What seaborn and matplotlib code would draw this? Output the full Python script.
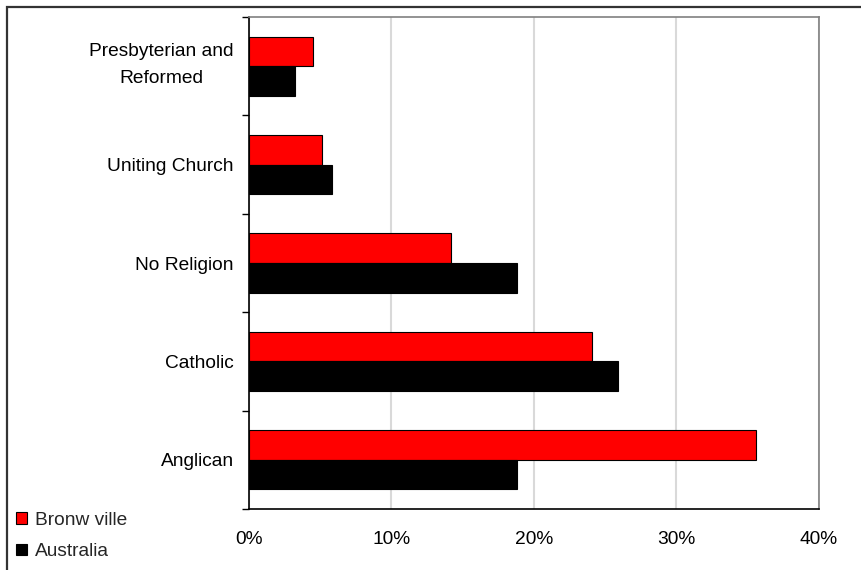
import numpy as np
import pandas as pd
import matplotlib
matplotlib.use("Agg")
import matplotlib.pyplot as plt
from matplotlib.patches import Patch, Rectangle
from matplotlib.ticker import FuncFormatter, FixedLocator
from matplotlib.transforms import ScaledTranslation
import seaborn as sns

categories = ["Presbyterian and\nReformed", "Uniting Church", "No Religion", "Catholic", "Anglican"]
series_names = ["Bronw ville", "Australia"]
bronwville = [4.5, 5.1, 14.2, 24.1, 35.6]
australia = [3.2, 5.8, 18.8, 25.9, 18.8]
x_ticks = [0, 10, 20, 30, 40]
colors = ["#ff0000", "#000000"]

df = pd.DataFrame({
    "religion": categories * 2,
    "pct": bronwville + australia,
    "area": [series_names[0]] * len(categories) + [series_names[1]] * len(categories),
})

sns.set_style("white")
plt.rcParams["font.family"] = ["Liberation Sans", "DejaVu Sans"]

fig = plt.figure(figsize=(8.61, 5.70), dpi=100)
ax = fig.add_axes([249 / 861, 1 - 509 / 570, (818.5 - 249) / 861, (509 - 17) / 570])

sns.barplot(data=df, y="religion", x="pct", hue="area", order=categories,
            hue_order=series_names, palette=colors, orient="h", width=0.6,
            edgecolor="black", linewidth=0.8, saturation=1, legend=False, ax=ax)

ax.set_xlim(0, 40)
ax.set_ylim(len(categories) - 0.5, -0.5)
ax.set_xlabel("")
ax.set_ylabel("")

# x axis
ax.xaxis.set_major_locator(FixedLocator(x_ticks))
ax.xaxis.set_major_formatter(FuncFormatter(lambda v, p: f"{v:.0f}%"))
ax.tick_params(axis="x", direction="in", length=5, width=1, color="#404040",
               pad=16, labelsize=13.8, labelcolor="black")
ax.grid(axis="x", color="#d9d9d9", linewidth=1.5)
ax.set_axisbelow(True)

# y axis: ticks at category boundaries, labels centered
ax.set_yticks(np.arange(-0.5, len(categories), 1.0))
ax.set_yticklabels([])
ax.set_yticks(np.arange(len(categories)), minor=True)
ax.set_yticklabels(categories, minor=True, multialignment="center", linespacing=1.75)
ax.tick_params(axis="y", which="major", direction="out", length=5, width=1,
               color="black", left=True)
ax.tick_params(axis="y", which="minor", length=0, pad=11, labelsize=13.8,
               labelcolor="black")
# the two-line label sits a little above the category centre
lab = ax.yaxis.get_minor_ticks()[0].label1
lab.set_transform(lab.get_transform() + ScaledTranslation(0, 8 / 100, fig.dpi_scale_trans))

for side in ["left", "bottom"]:
    ax.spines[side].set_color("black")
    ax.spines[side].set_linewidth(1.2)
for side in ["top", "right"]:
    ax.spines[side].set_visible(True)
    ax.spines[side].set_color("#808080")
    ax.spines[side].set_linewidth(1.2)

handles = [Patch(facecolor=c, edgecolor="black", linewidth=0.8) for c in colors]
fig.legend(handles, series_names, loc="center left",
           bbox_to_anchor=(16 / 861, 1 - 536 / 570), frameon=False,
           fontsize=13.8, handlelength=0.55, handleheight=0.55,
           handletextpad=0.45, labelspacing=0.75, borderpad=0, borderaxespad=0)

# outer chart frame (cut off at the right and bottom)
fig.add_artist(Rectangle((7 / 861, -0.1), 2, 1.1 - 7 / 570, transform=fig.transFigure,
                         fill=False, edgecolor="#333333", linewidth=1.6))

fig.savefig("out.png", dpi=100)
